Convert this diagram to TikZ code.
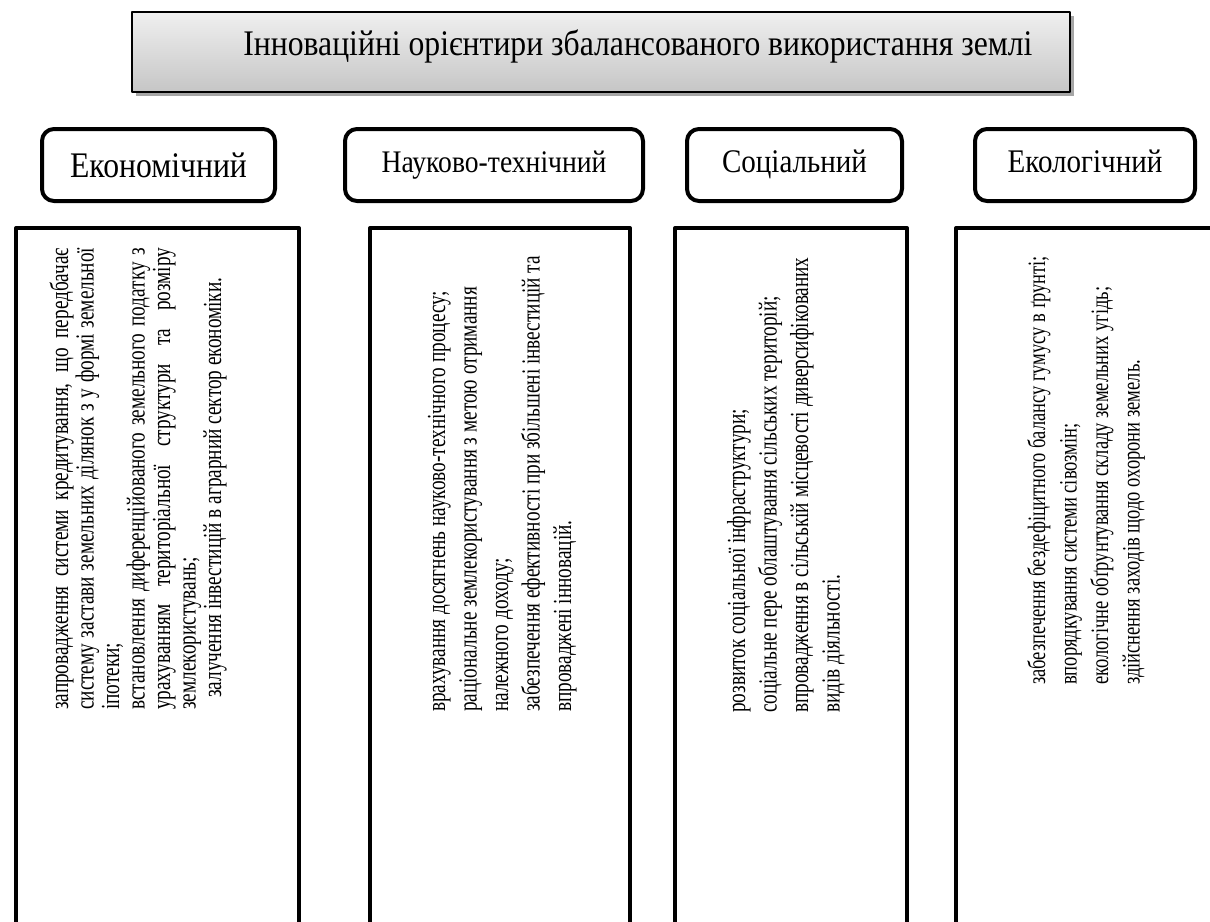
\documentclass[tikz,border=0pt]{standalone}
\usepackage{fontspec}
\setmainfont{Liberation Serif}
\newfontfamily\headfont[FakeStretch=0.88]{Liberation Serif}
\newfontfamily\bodyfont[FakeStretch=0.74]{Liberation Serif}
\usetikzlibrary{shadows}

\begin{document}
\begin{tikzpicture}[x=1pt,y=-1pt,line join=round]
  \tikzstyle{topbox}=[draw,line width=1.5pt,top color=gray!12,bottom color=gray!45,
    drop shadow={shadow xshift=4pt,shadow yshift=-4pt,fill=gray!70,opacity=1},
    minimum width=938pt,minimum height=80pt,inner sep=0pt,text height=6pt,text depth=0pt,
    font=\fontsize{36}{40}\headfont]
  \tikzstyle{facet}=[draw,line width=4pt,rounded corners=12pt,minimum height=72pt,
    inner sep=0pt,text height=14pt,text depth=0pt]
  \tikzstyle{column}=[draw,line width=4pt,anchor=north west,minimum height=740pt,inner sep=0pt]
  \tikzstyle{points}=[rotate=90,anchor=base west,inner sep=0pt,align=flush left,text width=520pt,
    font=\fontsize{26}{31.5}\bodyfont]

  \useasboundingbox (0,0) rectangle (1210,921);
  \clip (0,0) rectangle (1210,921);

  \node [topbox] (title) at (601,52) {\hspace*{74pt}Інноваційні орієнтири збалансованого використання землі};

  \node [facet,minimum width=233pt,text height=24pt,font=\fontsize{36}{40}\headfont] (econ) at (158.5,165) {Економічний};
  \node [facet,minimum width=298pt,font=\fontsize{31.4}{36}\headfont] (tech) at (494,165) {Науково-технічний};
  \node [facet,minimum width=215pt,font=\fontsize{33}{38}\headfont] (soc) at (794.5,165) {Соціальний};
  \node [facet,minimum width=220pt,font=\fontsize{33}{38}\headfont] (eco) at (1085,165) {Екологічний};

  \node [column,minimum width=283pt] (econbody) at (14,226) {};
  \node [column,minimum width=260pt] (techbody) at (368,226) {};
  \node [column,minimum width=232pt] (socbody) at (673,226) {};
  \node [column,minimum width=300pt] (ecobody) at (954,226) {};

  \node [points,align=justify,text width=462pt,font=\fontsize{26}{25.5}\bodyfont] (econlist) at (68,710)
    {запровадження системи кредитування, що передбачає\linebreak
     систему застави земельних ділянок з у формі земельної\linebreak
     іпотеки;\\
     встановлення диференційованого земельного податку з\linebreak
     урахуванням територіальної структури та розміру\linebreak
     землекористувань;\\
     \hspace*{12pt}залучення інвестицій в аграрний сектор економіки.};
  \node [points] (techlist) at (445,712)
    {врахування досягнень науково-технічного процесу;\\
     раціональне землекористування з метою отримання\\
     належного доходу;\\
     забезпечення ефективності при збільшені інвестицій та\\
     впроваджені інновацій.};
  \node [points] (soclist) at (745,713)
    {розвиток соціальної інфраструктури;\\
     соціальне пере облаштування сільських територій;\\
     впровадження в сільській місцевості диверсифікованих\\
     видів діяльності.};
  \node [points,font=\fontsize{25}{31.5}\bodyfont] (ecolist) at (1045,685)
    {забезпечення бездефіцитного балансу гумусу в ґрунті;\\
     впорядкування системи сівозмін;\\
     екологічне обґрунтування складу земельних угідь;\\
     здійснення заходів щодо охорони земель.};
\end{tikzpicture}
\end{document}
